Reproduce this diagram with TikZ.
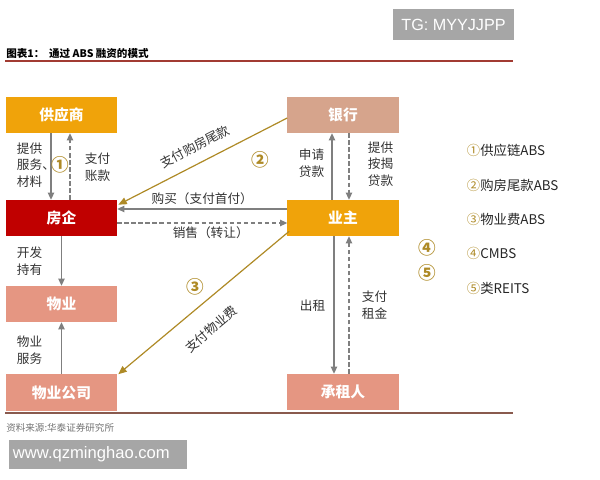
\documentclass[tikz,border=0pt]{standalone}
\usepackage{fontspec}
\setmainfont{Noto Sans CJK SC}
\newfontfamily\wmfont{Liberation Sans}
\usetikzlibrary{calc,arrows.meta}
\definecolor{cOrange}{HTML}{F0A30A}
\definecolor{cRed}{HTML}{C00000}
\definecolor{cBank}{HTML}{D6A48C}
\definecolor{cSalmon}{HTML}{E59682}
\definecolor{cGold}{HTML}{AE8A26}
\definecolor{cGray}{HTML}{7F7F7F}
\definecolor{cMark}{HTML}{A6A6A6}
\tikzset{
	box/.style={minimum width=2.775cm, minimum height=0.9cm, inner sep=0pt, text=white, font=\fontsize{10.5}{12}\selectfont\bfseries},
	lbl/.style={text=black!80, align=left, font=\fontsize{9}{11.8}\selectfont},
	flow/.style={draw=cGray, line width=0.35mm, -{Triangle[length=5pt,width=4.5pt]}},
	back/.style={flow, dash pattern=on 3pt off 2pt},
	goldline/.style={draw=cGold, line width=0.3mm, -{Triangle[length=6pt,width=5pt]}},
	num/.style={text=cGold, font=\fontsize{12.5}{13}\selectfont\bfseries},
	legend/.style={anchor=west, text=black!85, font=\fontsize{9.5}{11}\selectfont}
}

\begin{document}
\begin{tikzpicture}[x=0.025cm, y=-0.025cm]
		%%%%% START %%%%%
		\useasboundingbox (0,0) rectangle (600,480);
		
		\node[fill=cMark, text=white, minimum width=3.025cm, minimum height=0.75cm, font=\wmfont\fontsize{11.5}{13}\selectfont] (tg) at (453.5,24.5) {TG: MYYJJPP};
		\node[anchor=west, inner sep=0pt, font=\fontsize{7.5}{9}\selectfont\bfseries] (title) at (6,53) {图表1：\ \ 通过 ABS 融资的模式};
		\draw[line width=0.5mm, color=cRed!55!cBank!80!black] (5,61) -- (513,61);
		
		% boxes
		\node[box, fill=cOrange] (gys) at (61.5,115) {供应商};
		\node[box, fill=cRed] (fq) at (61.5,218) {房企};
		\node[box, fill=cSalmon] (wy) at (61.5,304) {物业};
		\node[box, fill=cSalmon] (wyg) at (61.5,392.5) {物业公司};
		\node[box, fill=cBank] (yh) at (343,115) {银行};
		\node[box, fill=cOrange] (yz) at (343,218) {业主};
		\node[box, fill=cSalmon] (czr) at (343,392) {承租人};
		
		% supplier
		\draw[flow] ($(gys.south)+(-10.5,0)$) -- ($(fq.north)+(-10.5,0)$);
		\draw[back] ($(fq.north)+(8.5,0)$) -- ($(gys.south)+(8.5,0)$);
		\node[lbl, anchor=west] (l1) at (12,165) {提供\\服务、\\材料};
		\node[lbl, anchor=west] (l2) at (80,167) {支付\\账款};
		\node[num] (n1) at (60,165) {①};
		
		% owner and developer
		\draw[flow] ($(yz.west)+(0,-9)$) -- node[lbl, above=-1pt] {购买（支付首付）} ($(fq.east)+(0,-9)$);
		\draw[back] ($(fq.east)+(0,5)$) -- node[lbl, below=-1pt, pos=0.55] {销售（转让）} ($(yz.west)+(0,5)$);
		
		% property
		\draw[flow] (fq.south) -- (wy.north);
		\draw[flow] (wyg.north) -- (wy.south);
		\node[lbl, anchor=west] (l3) at (12,261) {开发\\持有};
		\node[lbl, anchor=west] (l4) at (12,350) {物业\\服务};
		
		% bank
		\draw[flow] ($(yz.north)+(-11,0)$) -- ($(yh.south)+(-11,0)$);
		\draw[back] ($(yh.south)+(6,0)$) -- ($(yz.north)+(6,0)$);
		\node[lbl, anchor=west] (l5) at (294,163.5) {申请\\贷款};
		\node[lbl, anchor=west] (l6) at (363,164) {提供\\按揭\\贷款};
		
		% tenant
		\draw[flow] ($(yz.south)+(-9,0)$) -- ($(czr.north)+(-9,0)$);
		\draw[back] ($(czr.north)+(6,0)$) -- ($(yz.south)+(6,0)$);
		\node[lbl, anchor=west] (l7) at (295,306) {出租};
		\node[lbl, anchor=west] (l8) at (357,305) {支付\\租金};
		
		% ABS flows
		\draw[goldline] ($(yh.west)+(0,3)$) -- node[lbl, sloped, above=4pt, pos=0.5] {支付购房尾款} ($(fq.north east)+(1,5)$);
		\draw[goldline] ($(yz.south west)+(2,-5)$) -- node[lbl, sloped, below=10pt, pos=0.55] {支付物业费} ($(wyg.north east)+(1,0)$);
		\node[num] (n2) at (260,160) {②};
		\node[num] (n3) at (195,287) {③};
		\node[num] (n4) at (427,248) {④};
		\node[num] (n5) at (427,273) {⑤};
		
		% legend
		\node[legend] (k1) at (462,150) {\textcolor{cGold}{①}供应链ABS};
		\node[legend] (k2) at (462,185) {\textcolor{cGold}{②}购房尾款ABS};
		\node[legend] (k3) at (462,219) {\textcolor{cGold}{③}物业费ABS};
		\node[legend] (k4) at (462,253) {\textcolor{cGold}{④}CMBS};
		\node[legend] (k5) at (462,288) {\textcolor{cGold}{⑤}类REITS};
		
		\draw[line width=0.4mm, color=cSalmon!60!black] (5,413) -- (513,413);
		\node[anchor=west, inner sep=0pt, text=black!55, font=\fontsize{6.8}{8}\selectfont] (src) at (6,428) {资料来源:华泰证券研究所};
		\node[fill=cMark, text=white, minimum width=4.45cm, minimum height=0.725cm, text width=4.25cm, inner xsep=0.1cm, align=left, font=\wmfont\fontsize{11.8}{13}\selectfont] (www) at (98,454.5) {www.qzminghao.com};
		
		%%%%% END %%%%%
	\end{tikzpicture}
\end{document}
